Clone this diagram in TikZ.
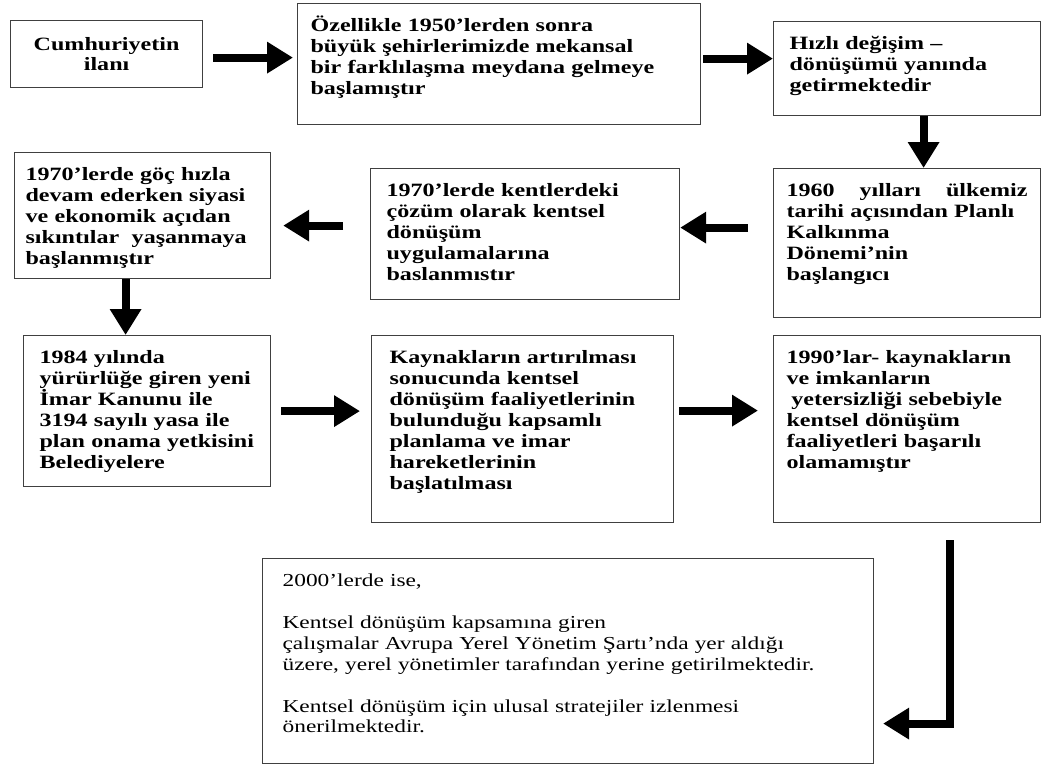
\documentclass[tikz,border=0pt]{standalone}
\usepackage{fontspec}
\setmainfont{Liberation Serif}[FakeStretch=1.28]
\usepackage{tikz}
\usetikzlibrary{arrows.meta,calc}

\begin{document}
\begin{tikzpicture}[
  x=0.02cm, y=-0.02cm,
  bx/.style={draw=black!75, line width=0.7pt, anchor=north west, align=left, inner ysep=0pt,
    text height=0.56cm, font=\fontsize{10.7pt}{11.9pt}\selectfont\bfseries},
  ar/.style={line width=0.16cm, -{Triangle[length=0.52cm, width=0.6cm]}}
]
\useasboundingbox (0,0) rectangle (1049,767);
\node[bx, align=center, inner sep=0pt, text height=, minimum width=3.84cm, minimum height=1.34cm]
  (cum) at (10,20) {Cumhuriyetin\\ilanı};
\node[bx, inner xsep=0.26cm, text width=7.54cm, text depth=1.86cm] (ozel) at (297,3)
  {Özellikle 1950’lerden sonra\\büyük şehirlerimizde mekansal\\bir farklılaşma meydana gelmeye\\başlamıştır};
\node[bx, inner xsep=0.32cm, text width=4.7cm, text depth=1.32cm] (hizli) at (773,21)
  {Hızlı değişim –\\dönüşümü yanında\\getirmektedir};
\node[bx, inner xsep=0.26cm, text width=4.82cm, text depth=2.42cm] (plan) at (773,168)
  {1960\hfill yılları\hfill ülkemiz\\tarihi açısından Planlı\\Kalkınma\\Dönemi’nin\\başlangıcı};
\node[bx, inner xsep=0.32cm, text width=5.54cm, text depth=2.06cm] (kent) at (370,168)
  {1970’lerde kentlerdeki\\çözüm olarak kentsel\\dönüşüm\\uygulamalarına\\baslanmıstır};
\node[bx, inner xsep=0.22cm, text width=4.68cm, text depth=1.96cm] (goc) at (14,152)
  {1970’lerde göç hızla\\devam ederken siyasi\\ve ekonomik açıdan\\sıkıntılar\ \ yaşanmaya\\başlanmıştır};
\node[bx, inner xsep=0.32cm, text width=4.3cm, text depth=2.46cm] (imar) at (23,335)
  {1984 yılında\\yürürlüğe giren yeni\\İmar Kanunu ile\\3194 sayılı yasa ile\\plan onama yetkisini\\Belediyelere};
\node[bx, inner xsep=0.36cm, text width=5.32cm, text depth=3.18cm] (kay) at (371,335)
  {Kaynakların artırılması\\sonucunda kentsel\\dönüşüm faaliyetlerinin\\bulunduğu kapsamlı\\planlama ve imar\\hareketlerinin\\başlatılması};
\node[bx, inner xsep=0.26cm, text width=4.82cm, text depth=3.18cm] (yetr) at (773,335)
  {1990’lar- kaynakların\\ve imkanların\\\hspace*{0.25em}yetersizliği sebebiyle\\kentsel dönüşüm\\faaliyetleri başarılı\\olamamıştır};
\node[bx, font=\fontsize{10.4pt}{11.9pt}\selectfont, inner xsep=0.4cm, text width=11.42cm, text depth=3.54cm] (son) at (262,558)
  {2000’lerde ise,\\[\baselineskip]Kentsel dönüşüm kapsamına giren\\çalışmalar Avrupa Yerel Yönetim Şartı’nda yer aldığı\\üzere, yerel yönetimler tarafından yerine getirilmektedir.\\[\baselineskip]Kentsel dönüşüm için ulusal stratejiler izlenmesi\\önerilmektedir.};
\draw[ar, shorten <=0.2cm, shorten >=0.08cm] ([yshift=-0.07cm]cum.east) -- ([yshift=-0.07cm]cum.east -| ozel.west);
\draw[ar, shorten <=0.04cm] ([yshift=0.11cm]ozel.east) -- ([yshift=0.11cm]ozel.east -| hizli.west);
\draw[ar] ([xshift=0.33cm]hizli.south) -- ([xshift=0.33cm]hizli.south |- plan.north);
\draw[ar, shorten <=0.5cm] ([yshift=0.31cm]plan.west) -- ([yshift=0.31cm]plan.west -| kent.east);
\draw[ar, shorten <=0.54cm, shorten >=0.24cm] ([yshift=0.17cm]kent.west) -- ([yshift=0.17cm]kent.west -| goc.east);
\draw[ar] ([xshift=-0.34cm]goc.south) -- ([xshift=-0.34cm]goc.south |- imar.north);
\draw[ar, shorten <=0.2cm, shorten >=0.22cm] (imar.east) -- (imar.east -| kay.west);
\draw[ar, shorten <=0.1cm, shorten >=0.3cm] ([yshift=0.37cm]kay.east) -- ([yshift=0.37cm]kay.east -| yetr.west);
\draw[ar, shorten <=0.34cm, shorten >=0.18cm] ([xshift=0.85cm]yetr.south) |- ([yshift=-1.25cm]son.east);
\end{tikzpicture}
\end{document}
